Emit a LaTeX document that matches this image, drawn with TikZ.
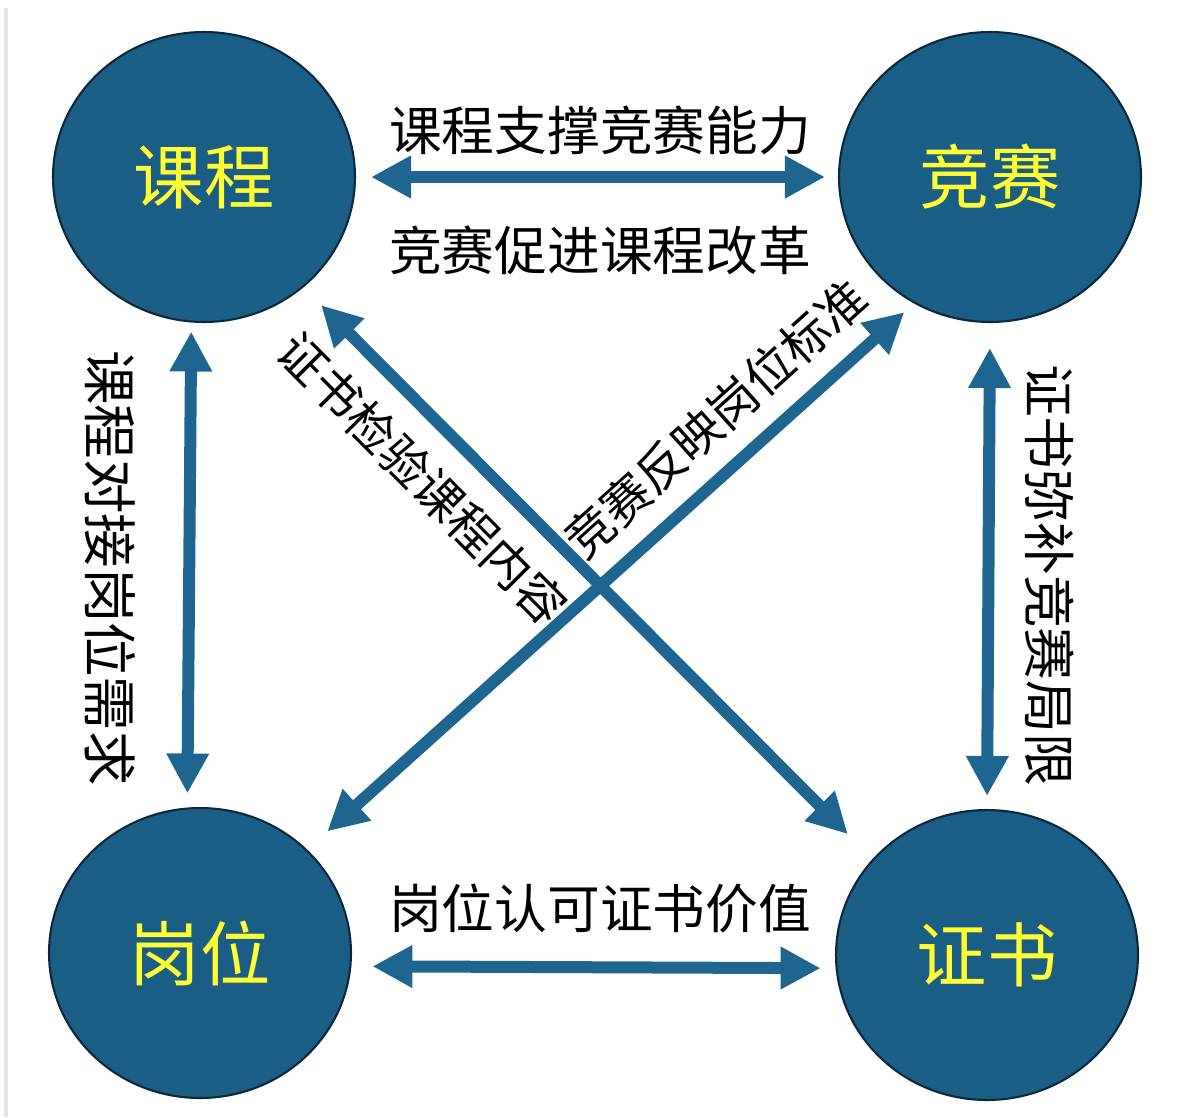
\documentclass[tikz,border=0pt]{standalone}
\usepackage{fontspec}
\setmainfont{Noto Sans CJK SC}
\usepackage{xcolor}
\usetikzlibrary{arrows.meta}
\usetikzlibrary{shapes.geometric}

\definecolor{HubBlue}{RGB}{26,94,134}
\definecolor{HubEdge}{RGB}{12,40,60}
\definecolor{LinkBlue}{RGB}{30,102,143}
\definecolor{HubText}{RGB}{255,255,51}

\begin{document}
\begin{tikzpicture}[x=0.02cm, y=-0.02cm,
      hub/.style={ellipse, minimum width=6.04cm, minimum height=5.8cm,
         inner sep=0pt, draw=HubEdge, line width=1.2pt, fill=HubBlue,
         text=HubText, font=\fontsize{40pt}{40pt}\selectfont},
      link/.style={draw=LinkBlue, line width=0.24cm,
         {Triangle[length=0.8cm, width=0.8cm]}-{Triangle[length=0.8cm, width=0.8cm]}},
      tag/.style={inner sep=0pt, text=black, font=\fontsize{30pt}{30pt}\selectfont},
      slanttag/.style={tag, sloped, font=\fontsize{27.5pt}{27.5pt}\selectfont}]
         \useasboundingbox (0,0) rectangle (1181,1117);
         \fill [white] (0,0) rectangle (1181,1117);
         \draw [gray!20, line width=2pt] (6,8) -- (6,1117);

         \node (kc) at (204,177) [hub] {课程};
         \node (js) at (990,177) [hub] {竞赛};
         \node (gw) at (200,953) [hub] {岗位};
         \node (zs) at (987,955) [hub] {证书};

         \draw [link, shorten <=0.3cm, shorten >=0.26cm] (kc.east) -- (js.west);
         \draw [link, shorten <=0.42cm, shorten >=0.3cm] (gw.-5) -- (zs.185);
         \draw [link, shorten <=0.18cm, shorten >=0.28cm] (kc.265) -- (gw.95);
         \draw [link, shorten <=0.5cm, shorten >=0.26cm] (js.270) -- (zs.90);
         \draw [link, shorten <=0.5cm, shorten >=0.7cm] (kc.-48) -- (zs.140)
            node (t6) [slanttag, pos=0.272, below=0.44cm] {证书检验课程内容};
         \draw [link, shorten <=0.26cm, shorten >=0.54cm] (js.239) -- (gw.44)
            node (t7) [slanttag, pos=0.275, above=0.38cm] {竞赛反映岗位标准};

         \node (t1) at (600,130) [tag] {课程支撑竞赛能力};
         \node (t2) at (600,250) [tag] {竞赛促进课程改革};
         \node (t3) at (600,908) [tag] {岗位认可证书价值};
         \node (t4) at (110,568) [tag, rotate=-90, font=\fontsize{31pt}{31pt}\selectfont] {课程对接岗位需求};
         \node (t5) at (1050,575) [tag, rotate=-90] {证书弥补竞赛局限};
      \end{tikzpicture}
\end{document}
